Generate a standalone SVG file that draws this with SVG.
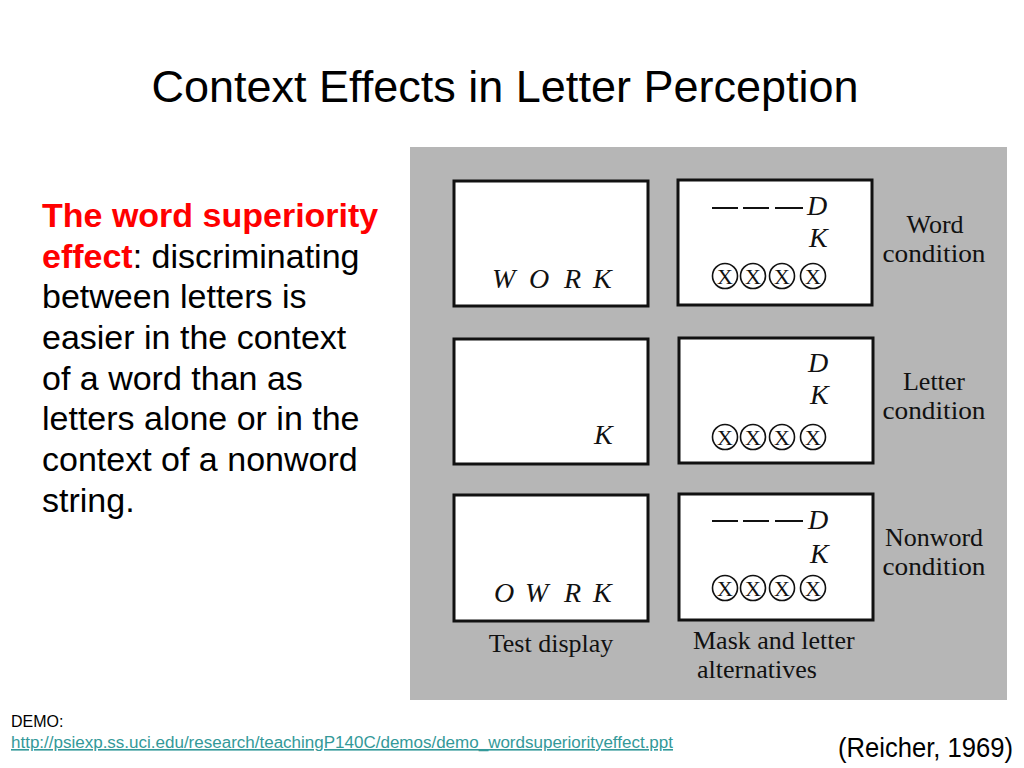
<svg xmlns="http://www.w3.org/2000/svg" width="1024" height="768" viewBox="0 0 1024 768">
<style>
.sans{font-family:"Liberation Sans",Arial,sans-serif}
.body{font-size:34px;fill:#000}
.red{fill:#ff0000;font-weight:bold}
.box{fill:#ffffff;stroke:#111;stroke-width:3}
.lt{font-family:"Liberation Serif","Times New Roman",serif;font-style:italic;font-size:28px;fill:#111}
.lbl{font-family:"Liberation Serif","Times New Roman",serif;font-size:26px;fill:#111}
.dash{stroke:#111;stroke-width:2}
.mask circle{fill:none;stroke:#111;stroke-width:1.6}
.mask text{font-family:"Liberation Serif","Times New Roman",serif;font-size:22px;fill:#111;text-anchor:middle}
</style>
<defs>
<g id="mask4" class="mask">
<circle cx="725" cy="0" r="12.5"/><circle cx="753" cy="0" r="12.5"/><circle cx="782" cy="0" r="12.5"/><circle cx="813" cy="0" r="12.5"/>
<text x="725" y="7.5">X</text><text x="753" y="7.5">X</text><text x="782" y="7.5">X</text><text x="813" y="7.5">X</text>
</g>
<g id="dashes">
<line class="dash" x1="712" y1="0" x2="738" y2="0"/><line class="dash" x1="743" y1="0" x2="769" y2="0"/><line class="dash" x1="775" y1="0" x2="803" y2="0"/>
</g>
</defs>
<rect width="1024" height="768" fill="#ffffff"/>
<g id="title"><text class="sans" x="505" y="102" font-size="45" text-anchor="middle" fill="#000">Context Effects in Letter Perception</text></g>
<g id="description" class="sans body">
<text x="42" y="227" class="red">The word superiority</text>
<text x="42" y="268"><tspan class="red">effect</tspan>: discriminating</text>
<text x="42" y="308">between letters is</text>
<text x="42" y="349">easier in the context</text>
<text x="42" y="390">of a word than as</text>
<text x="42" y="430">letters alone or in the</text>
<text x="42" y="471">context of a nonword</text>
<text x="42" y="512">string.</text>
</g>
<g id="figure">
<rect x="410" y="147" width="597" height="553" fill="#b6b6b6"/>
<g id="word-test"><rect class="box" x="454" y="181" width="194" height="125"/>
<text class="lt" x="492" y="288">W</text><text class="lt" x="529" y="288">O</text><text class="lt" x="564" y="288">R</text><text class="lt" x="593" y="288">K</text></g>
<g id="word-mask"><rect class="box" x="678" y="180" width="194" height="125"/>
<use href="#dashes" y="208"/><text class="lt" x="807" y="215">D</text><text class="lt" x="809" y="247">K</text>
<use href="#mask4" y="276"/></g>
<g id="word-label"><text class="lbl" x="935" y="233" text-anchor="middle">Word</text><text class="lbl" x="934" y="262" text-anchor="middle" textLength="103" lengthAdjust="spacingAndGlyphs">condition</text></g>
<g id="letter-test"><rect class="box" x="454" y="339" width="194" height="125"/>
<text class="lt" x="594" y="444">K</text></g>
<g id="letter-mask"><rect class="box" x="679" y="338" width="194" height="125"/>
<text class="lt" x="808" y="372">D</text><text class="lt" x="810" y="404">K</text>
<use href="#mask4" y="437"/></g>
<g id="letter-label"><text class="lbl" x="934" y="390" text-anchor="middle">Letter</text><text class="lbl" x="934" y="419" text-anchor="middle" textLength="103" lengthAdjust="spacingAndGlyphs">condition</text></g>
<g id="nonword-test"><rect class="box" x="454" y="495" width="194" height="126"/>
<text class="lt" x="494" y="602">O</text><text class="lt" x="525" y="602">W</text><text class="lt" x="564" y="602">R</text><text class="lt" x="593" y="602">K</text></g>
<g id="nonword-mask"><rect class="box" x="679" y="494" width="194" height="126"/>
<use href="#dashes" y="521"/><text class="lt" x="808" y="529">D</text><text class="lt" x="810" y="563">K</text>
<use href="#mask4" y="588"/></g>
<g id="nonword-label"><text class="lbl" x="934" y="546" text-anchor="middle">Nonword</text><text class="lbl" x="934" y="575" text-anchor="middle" textLength="103" lengthAdjust="spacingAndGlyphs">condition</text></g>
<g id="col-labels"><text class="lbl" x="551" y="652" text-anchor="middle">Test display</text>
<text class="lbl" x="693" y="649">Mask and letter</text><text class="lbl" x="697" y="678">alternatives</text></g>
</g>
<g id="connectors"></g>
<g id="footer" class="sans">
<text x="11" y="727" font-size="16" fill="#000">DEMO:</text>
<text x="11" y="748" font-size="16" fill="#339999" text-decoration="underline" textLength="662" lengthAdjust="spacingAndGlyphs">http://psiexp.ss.uci.edu/research/teachingP140C/demos/demo_wordsuperiorityeffect.ppt</text>
<text x="1013" y="757" font-size="27" fill="#000" text-anchor="end" textLength="175" lengthAdjust="spacingAndGlyphs">(Reicher, 1969)</text>
</g>
</svg>
